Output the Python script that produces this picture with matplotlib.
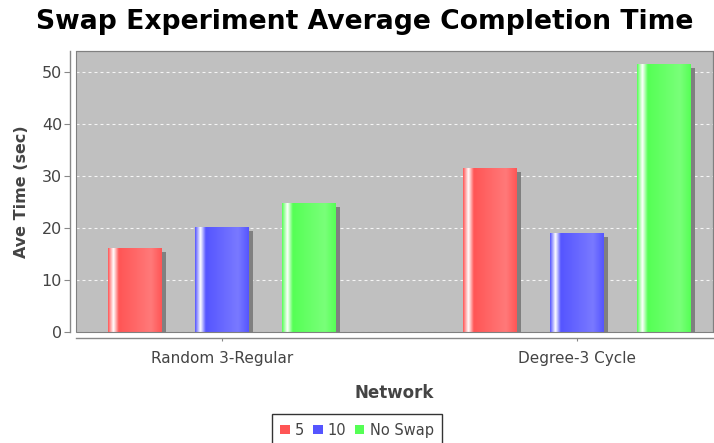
import numpy as np
import matplotlib
matplotlib.use("Agg")
import matplotlib.pyplot as plt
from matplotlib.patches import Rectangle
from matplotlib.transforms import offset_copy

# data
categories = ["Random 3-Regular", "Degree-3 Cycle"]
series_names = ["5", "10", "No Swap"]
values_5 = [16.1, 31.5]
values_10 = [20.1, 19.0]
values_noswap = [24.9, 51.5]
y_ticks = [0, 10, 20, 30, 40, 50]

series_values = [values_5, values_10, values_noswap]
series_colors = ["#FF5555", "#5555FF", "#55FF55"]

plt.rcParams["font.family"] = ["DejaVu Sans"]

W, H = 714, 443
fig = plt.figure(figsize=(W / 100, H / 100), dpi=100, facecolor="white")

# plot area in pixels: left 76, right 713, top 51, bottom 332
ax = fig.add_axes([76 / W, (H - 332) / H, (713 - 76) / W, (332 - 51) / H])
ax.set_facecolor("#C0C0C0")


def gradient_row(color, n=200):
    # mimic JFreeChart GradientBarPainter (0.10, 0.20, 0.80 splits)
    c0 = np.array(matplotlib.colors.to_rgb(color))
    c1 = np.minimum(c0 / 0.7, 1.0)
    white = np.ones(3)
    row = []
    for t in np.linspace(0, 1, n):
        if t < 0.1:
            f = t / 0.1
            c = c0 * (1 - f) + white * f
        elif t < 0.2:
            f = (t - 0.1) / 0.1
            c = white * (1 - f) + c0 * f
        elif t < 0.8:
            f = (t - 0.2) / 0.6
            c = c0 * (1 - f) + c1 * f
        else:
            f = (t - 0.8) / 0.2
            c = c1 * (1 - f) + c0 * f
        row.append(c)
    return np.array([row])


x = np.arange(len(categories))
offset = 0.245
width = 0.152
shadow_tr = offset_copy(ax.transData, fig=fig, x=4, y=-4, units="dots")

for i, (vals, col, name) in enumerate(zip(series_values, series_colors, series_names)):
    xs = x + (i - 1) * offset
    shadows = ax.bar(xs, vals, width, color="#808080", linewidth=0, zorder=2)
    for p in shadows:
        p.set_transform(shadow_tr)
    bars = ax.bar(xs, vals, width, color=col, linewidth=0, zorder=3, label=name)
    grad = gradient_row(col)
    for p in bars:
        im = ax.imshow(grad, extent=(p.get_x(), p.get_x() + p.get_width(), 0, p.get_height()),
                       origin="lower", aspect="auto", interpolation="bilinear", zorder=4)
        im.set_clip_path(p)

ax.set_xlim(-0.411, 1.383)
ax.set_ylim(0, 54.04)
ax.set_aspect("auto")

# grid
ax.set_yticks(y_ticks)
ax.yaxis.grid(True, color="white", alpha=0.85, linestyle=(0, (2.7, 2.7)), linewidth=0.8)
ax.set_axisbelow(True)

ax.set_xticks(x)
ax.set_xticklabels(categories)

# axes lines, offset from the plot area like JFreeChart
for side in ["left", "bottom"]:
    ax.spines[side].set_position(("outward", 4))
    ax.spines[side].set_color("#888888")
    ax.spines[side].set_linewidth(1.0)
for side in ["top", "right"]:
    ax.spines[side].set_color("#808080")
    ax.spines[side].set_linewidth(0.8)
ax.add_patch(Rectangle((0, 0), 1, 1, transform=ax.transAxes, fill=False,
                       edgecolor="#808080", linewidth=0.8, clip_on=False, zorder=5))

ax.tick_params(axis="y", length=4, width=0.8, color="#888888", pad=2,
               labelsize=11.5, labelcolor="#444444")
ax.tick_params(axis="x", length=2, width=0.8, color="#888888", pad=8,
               labelsize=11, labelcolor="#444444")

ax.set_ylabel("Ave Time (sec)", fontsize=11.5, fontweight="bold", color="#444444")
ax.yaxis.set_label_coords((22 - 76) / (713 - 76), 0.5)
ax.set_xlabel("Network", fontsize=12, fontweight="bold", color="#444444")
ax.xaxis.set_label_coords(0.5, -(393 - 332) / (332 - 51))
ax.xaxis.label.set_va("center")
ax.yaxis.label.set_va("center")

fig.text(365 / W, 1 - 22 / H, "Swap Experiment Average Completion Time",
         ha="center", va="center", fontsize=19.2, fontweight="bold", color="black")

leg = fig.legend(loc="upper center", bbox_to_anchor=(357 / W, (H - 414) / H), ncol=3,
                 frameon=True, fancybox=False, fontsize=10.5, handlelength=0.65,
                 handleheight=0.65, handletextpad=0.35, columnspacing=0.6,
                 borderpad=0.6, borderaxespad=0)
leg.get_frame().set_edgecolor("black")
leg.get_frame().set_linewidth(1.0)
for t in leg.get_texts():
    t.set_color("#444444")

fig.savefig("out.png", dpi=100)
